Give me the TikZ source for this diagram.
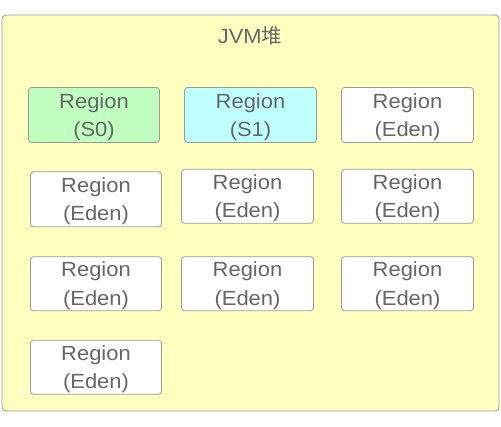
\documentclass[tikz,border=0pt]{standalone}
\usepackage{fontspec}
\setmainfont{Liberation Sans}[FakeStretch=1.07]
\newfontfamily\cjk{Noto Sans CJK SC}
\definecolor{heapfill}{HTML}{FFFFC0}
\definecolor{edgegray}{HTML}{999999}
\definecolor{txtgray}{HTML}{666666}
\definecolor{sofill}{HTML}{C0FFC0}
\definecolor{sifill}{HTML}{C0FFFF}
\newcommand{\topstrut}{\rule{0pt}{19pt}}
\begin{document}
\begin{tikzpicture}[x=1pt,y=-1pt,
  regionbox/.style={draw=edgegray, line width=0.8pt, rounded corners=3pt, fill=white, text=txtgray,
    minimum width=131pt, minimum height=55pt, inner sep=0pt, align=center,
    font=\fontsize{20.5pt}{28.3pt}\selectfont},
  heap/.style={draw=edgegray, line width=0.8pt, rounded corners=4pt, fill=heapfill}]
\useasboundingbox (0,0) rectangle (501,426);
\draw[heap] (2,15) rectangle (499,411);
\node[text=txtgray, font=\fontsize{20.5pt}{24pt}\selectfont] (title) at (250,36) {JVM{\cjk 堆}};
\node[regionbox, fill=sofill, minimum width=131pt] (s0) at (94,115) {\topstrut Region\\(S0)};
\node[regionbox, fill=sifill, minimum width=132pt] (s1) at (250.5,115) {\topstrut Region\\(S1)};
\node[regionbox, minimum width=132pt] (e1) at (407.5,115) {\topstrut Region\\(Eden)};
\node[regionbox] (e2) at (96,199.3) {\topstrut Region\\(Eden)};
\node[regionbox, minimum width=132pt, minimum height=54pt] (e3) at (247.5,196.3) {\topstrut Region\\(Eden)};
\node[regionbox, minimum width=132pt, minimum height=54pt] (e4) at (407.5,196.3) {\topstrut Region\\(Eden)};
\node[regionbox, minimum height=54pt] (e5) at (96,283.7) {\topstrut Region\\(Eden)};
\node[regionbox, minimum width=132pt, minimum height=54pt] (e6) at (247.5,283.7) {\topstrut Region\\(Eden)};
\node[regionbox, minimum width=132pt, minimum height=54pt] (e7) at (407.5,283.7) {\topstrut Region\\(Eden)};
\node[regionbox, minimum height=54pt] (e8) at (96,367.3) {\topstrut Region\\(Eden)};
\end{tikzpicture}
\end{document}
